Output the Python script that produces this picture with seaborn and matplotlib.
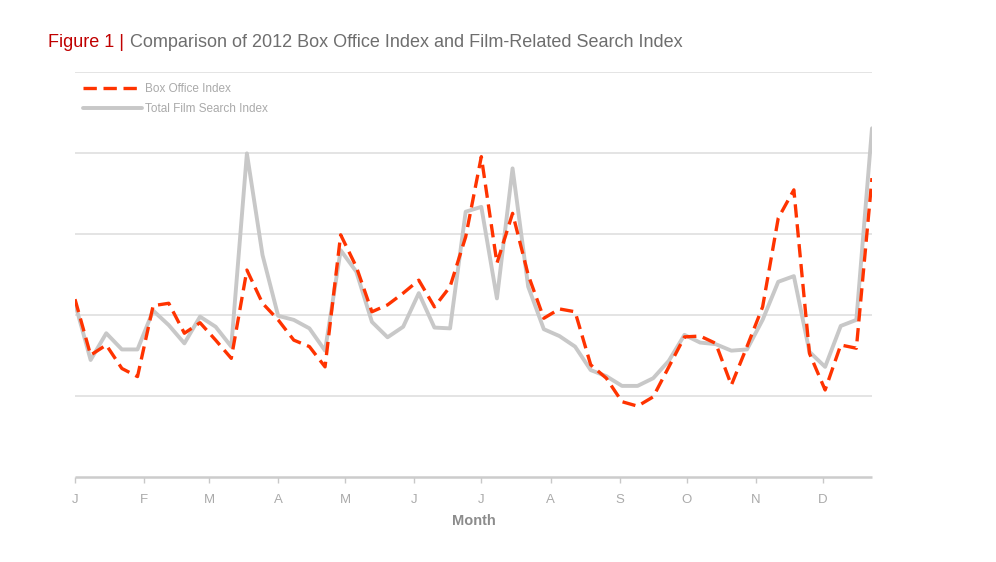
import numpy as np
import pandas as pd
import matplotlib.pyplot as plt
import seaborn as sns

# weekly index values for 2012
box_office = [43.9, 30.1, 32.6, 26.8, 24.8, 42.3, 42.9, 35.5, 38.1, 33.8,
              29.3, 51.1, 42.9, 38.8, 33.8, 32.2, 27.2, 59.8, 51.9, 40.8,
              42.5, 45.4, 48.6, 42.0, 47.0, 59.3, 79.1, 52.8, 65.1, 49.9,
              39.2, 41.5, 40.8, 27.7, 24.4, 18.6, 17.5, 19.8, 27.2, 34.6,
              34.8, 33.0, 22.7, 32.2, 42.0, 63.9, 70.9, 30.5, 21.5, 32.6,
              31.8, 73.8]
film_search = [42.9, 28.9, 35.5, 31.5, 31.5, 41.1, 37.5, 33.0, 39.6, 37.1,
               32.2, 79.9, 54.8, 39.8, 38.8, 36.7, 31.2, 56.0, 50.7, 38.3,
               34.5, 37.1, 45.4, 36.9, 36.7, 65.5, 66.7, 44.1, 76.2, 47.0,
               36.5, 34.8, 32.2, 26.4, 24.9, 22.5, 22.5, 24.4, 28.7, 35.1,
               33.2, 32.8, 31.2, 31.5, 38.8, 48.2, 49.6, 30.9, 27.2, 37.3,
               38.8, 86.1]
month_labels = ["J", "F", "M", "A", "M", "J", "J", "A", "S", "O", "N", "D"]
month_start_day = [0, 31, 60, 91, 121, 152, 182, 213, 244, 274, 305, 335]

day = np.arange(len(box_office)) * 7
df = pd.DataFrame({"day": day, "box": box_office, "search": film_search})

sns.set_style("white", {"xtick.bottom": True})
plt.rcParams["font.family"] = ["Liberation Sans", "DejaVu Sans"]

fig = plt.figure(figsize=(9.96, 5.62), dpi=100)
ax = fig.add_axes([0.0753, 0.1512, 0.8002, 0.7207])

grey = "#c8c8c8"
red = "#ff3300"
sns.lineplot(data=df, x="day", y="search", ax=ax, color=grey, linewidth=2.8,
             label="Total Film Search Index", zorder=2)
sns.lineplot(data=df, x="day", y="box", ax=ax, color=red, linewidth=2.4,
             label="Box Office Index", zorder=3)
ax.lines[1].set_dashes([4, 2])

ax.set_xlim(0, 357)
ax.set_ylim(0, 100)
ax.set_yticks([20, 40, 60, 80, 100])
ax.grid(axis="y", color="#e2e2e2", linewidth=1.3)
ax.set_yticklabels([])
ax.tick_params(axis="y", length=0)

ax.set_xticks(month_start_day)
ax.set_xticklabels(month_labels)
ax.tick_params(axis="x", bottom=True, length=4, width=1, color="#c8c8c8",
               labelcolor="#aaaaaa", labelsize=9.5, pad=8, direction="out")
ax.set_xlabel("Month", color="#8c8c8c", fontsize=10.5, fontweight="bold", labelpad=6)
ax.set_ylabel("")

for s in ["top", "right", "left"]:
    ax.spines[s].set_visible(False)
ax.spines["bottom"].set_color("#cccccc")
ax.spines["bottom"].set_linewidth(1.8)
ax.spines["bottom"].set_capstyle("butt")

h, l = ax.get_legend_handles_labels()
leg = ax.legend(h[::-1], l[::-1], loc="upper left", bbox_to_anchor=(0.004, 0.985),
                frameon=False, fontsize=8.5, handlelength=5.0, handletextpad=0.3,
                labelspacing=0.7, borderaxespad=0)
for t in leg.get_texts():
    t.set_color("#aaaaaa")

fig.text(0.048, 0.925, "Figure 1 | ", color="#c00000", fontsize=13, ha="left", va="center")
fig.text(0.131, 0.925, "Comparison of 2012 Box Office Index and Film-Related Search Index",
         color="#6e6e6e", fontsize=13, ha="left", va="center")

fig.savefig("out.png", dpi=100)
